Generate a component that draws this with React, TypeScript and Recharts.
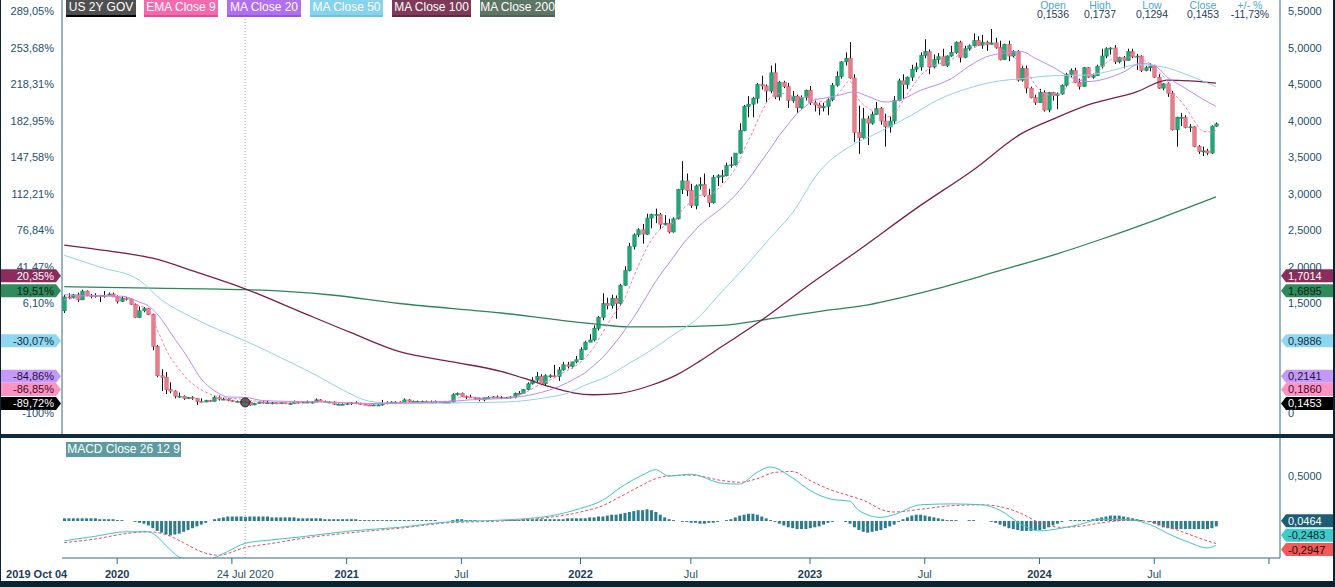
import React from "react";
import {
  ComposedChart,
  Bar,
  Line,
  XAxis,
  YAxis,
  ReferenceLine,
  ReferenceDot,
} from "recharts";

// weekly bars [open, high, low, close]; week 0 starts Mon 7 Oct 2019
const bars2019 = [
  [1.40, 1.62, 1.37, 1.59], [1.59, 1.64, 1.56, 1.58], [1.58, 1.63, 1.57, 1.62], [1.62, 1.65, 1.52, 1.55],
  [1.55, 1.69, 1.55, 1.67], [1.67, 1.68, 1.60, 1.61], [1.61, 1.63, 1.57, 1.60], [1.60, 1.64, 1.58, 1.61],
  [1.61, 1.62, 1.52, 1.61], [1.61, 1.67, 1.58, 1.61], [1.61, 1.65, 1.60, 1.63], [1.63, 1.65, 1.61, 1.59],
  [1.59, 1.61, 1.50, 1.53],
];
const bars2020 = [
  [1.53, 1.60, 1.52, 1.57], [1.57, 1.59, 1.54, 1.56], [1.56, 1.57, 1.48, 1.49], [1.49, 1.50, 1.30, 1.31],
  [1.31, 1.46, 1.30, 1.40], [1.40, 1.45, 1.38, 1.43], [1.43, 1.44, 1.34, 1.35], [1.35, 1.36, 0.86, 0.91],
  [0.91, 0.93, 0.49, 0.51], [0.51, 0.60, 0.30, 0.49], [0.49, 0.56, 0.26, 0.32], [0.32, 0.42, 0.27, 0.30],
  [0.30, 0.31, 0.20, 0.23], [0.23, 0.28, 0.21, 0.23], [0.23, 0.24, 0.18, 0.20], [0.20, 0.22, 0.19, 0.21],
  [0.21, 0.23, 0.18, 0.20], [0.20, 0.20, 0.11, 0.16], [0.16, 0.20, 0.15, 0.15], [0.15, 0.18, 0.15, 0.17],
  [0.17, 0.18, 0.15, 0.16], [0.16, 0.24, 0.16, 0.21], [0.21, 0.24, 0.17, 0.19], [0.19, 0.21, 0.18, 0.19],
  [0.19, 0.20, 0.16, 0.17], [0.17, 0.18, 0.15, 0.16], [0.16, 0.17, 0.15, 0.16], [0.16, 0.17, 0.15, 0.15],
  [0.1536, 0.1737, 0.1294, 0.1453], [0.145, 0.16, 0.10, 0.11], [0.11, 0.14, 0.11, 0.13], [0.13, 0.16, 0.13, 0.15],
  [0.15, 0.16, 0.13, 0.14], [0.14, 0.17, 0.14, 0.14], [0.14, 0.15, 0.12, 0.14], [0.14, 0.15, 0.13, 0.13],
  [0.13, 0.15, 0.13, 0.14], [0.14, 0.15, 0.13, 0.13], [0.13, 0.14, 0.12, 0.13], [0.13, 0.17, 0.13, 0.15],
  [0.15, 0.16, 0.13, 0.14], [0.14, 0.16, 0.14, 0.15], [0.15, 0.17, 0.14, 0.15], [0.15, 0.16, 0.13, 0.15],
  [0.15, 0.20, 0.15, 0.18], [0.18, 0.19, 0.16, 0.16], [0.16, 0.17, 0.14, 0.15], [0.15, 0.16, 0.14, 0.15],
  [0.15, 0.16, 0.11, 0.12], [0.12, 0.13, 0.11, 0.12], [0.12, 0.13, 0.11, 0.12], [0.12, 0.14, 0.11, 0.13],
];
const bars2021 = [
  [0.13, 0.15, 0.11, 0.14], [0.14, 0.16, 0.13, 0.13], [0.13, 0.14, 0.11, 0.12], [0.12, 0.13, 0.11, 0.11],
  [0.11, 0.12, 0.10, 0.10], [0.10, 0.12, 0.10, 0.11], [0.11, 0.12, 0.10, 0.11], [0.11, 0.18, 0.10, 0.13],
  [0.13, 0.16, 0.12, 0.14], [0.14, 0.16, 0.13, 0.15], [0.15, 0.16, 0.13, 0.15], [0.15, 0.16, 0.13, 0.14],
  [0.14, 0.20, 0.14, 0.18], [0.18, 0.19, 0.15, 0.16], [0.16, 0.17, 0.15, 0.16], [0.16, 0.17, 0.15, 0.16],
  [0.16, 0.17, 0.15, 0.16], [0.16, 0.17, 0.14, 0.15], [0.15, 0.17, 0.15, 0.15], [0.15, 0.17, 0.14, 0.16],
  [0.16, 0.16, 0.14, 0.14], [0.14, 0.16, 0.14, 0.15], [0.15, 0.16, 0.14, 0.15], [0.15, 0.27, 0.14, 0.25],
  [0.25, 0.28, 0.24, 0.27], [0.27, 0.28, 0.22, 0.23], [0.23, 0.24, 0.19, 0.22], [0.22, 0.25, 0.21, 0.21],
  [0.21, 0.22, 0.18, 0.20], [0.20, 0.21, 0.16, 0.18], [0.18, 0.22, 0.16, 0.21], [0.21, 0.23, 0.20, 0.21],
  [0.21, 0.23, 0.20, 0.22], [0.22, 0.24, 0.21, 0.21], [0.21, 0.23, 0.19, 0.21], [0.21, 0.22, 0.20, 0.21],
  [0.21, 0.23, 0.20, 0.22], [0.22, 0.28, 0.20, 0.27], [0.27, 0.30, 0.26, 0.27], [0.27, 0.33, 0.26, 0.32],
  [0.32, 0.42, 0.31, 0.40], [0.40, 0.49, 0.39, 0.45], [0.45, 0.56, 0.42, 0.50], [0.50, 0.53, 0.38, 0.40],
  [0.40, 0.53, 0.38, 0.51], [0.51, 0.53, 0.48, 0.51], [0.51, 0.66, 0.49, 0.50], [0.50, 0.63, 0.44, 0.59],
  [0.59, 0.70, 0.58, 0.66], [0.66, 0.70, 0.61, 0.64], [0.64, 0.70, 0.61, 0.70], [0.70, 0.78, 0.68, 0.73],
];
const bars2022 = [
  [0.73, 0.90, 0.73, 0.87], [0.87, 0.99, 0.86, 0.97], [0.97, 1.08, 0.97, 1.00], [1.00, 1.20, 0.98, 1.16],
  [1.16, 1.33, 1.13, 1.31], [1.31, 1.64, 1.27, 1.50], [1.50, 1.58, 1.42, 1.47], [1.47, 1.62, 1.43, 1.57],
  [1.57, 1.61, 1.29, 1.50], [1.50, 1.77, 1.47, 1.75], [1.75, 2.01, 1.74, 1.95], [1.95, 2.33, 1.94, 2.28],
  [2.28, 2.46, 2.24, 2.44], [2.44, 2.53, 2.41, 2.51], [2.51, 2.59, 2.32, 2.45], [2.45, 2.73, 2.44, 2.67],
  [2.67, 2.73, 2.53, 2.72], [2.72, 2.80, 2.60, 2.72], [2.72, 2.74, 2.52, 2.58], [2.58, 2.71, 2.57, 2.60],
  [2.60, 2.66, 2.46, 2.48], [2.48, 2.68, 2.47, 2.66], [2.66, 3.07, 2.65, 3.06], [3.06, 3.45, 3.00, 3.18],
  [3.18, 3.28, 2.97, 3.05], [3.05, 3.14, 2.81, 2.84], [2.84, 3.13, 2.79, 3.11], [3.11, 3.23, 3.06, 3.13],
  [3.13, 3.28, 2.96, 2.98], [2.98, 3.07, 2.82, 2.88], [2.88, 3.26, 2.87, 3.23], [3.23, 3.27, 3.11, 3.25],
  [3.25, 3.33, 3.15, 3.25], [3.25, 3.43, 3.24, 3.39], [3.39, 3.51, 3.36, 3.40], [3.40, 3.55, 3.39, 3.56],
  [3.56, 3.97, 3.55, 3.87], [3.87, 4.22, 3.86, 4.20], [4.20, 4.34, 4.05, 4.23], [4.23, 4.33, 4.05, 4.31],
  [4.31, 4.52, 4.24, 4.50], [4.50, 4.62, 4.43, 4.48], [4.48, 4.50, 4.26, 4.41], [4.41, 4.76, 4.38, 4.66],
  [4.66, 4.79, 4.30, 4.33], [4.33, 4.55, 4.28, 4.53], [4.53, 4.55, 4.45, 4.47], [4.47, 4.52, 4.18, 4.28],
  [4.28, 4.41, 4.25, 4.34], [4.34, 4.36, 4.11, 4.18], [4.18, 4.35, 4.17, 4.32], [4.32, 4.43, 4.28, 4.42],
];
const bars2023 = [
  [4.42, 4.48, 4.22, 4.25], [4.25, 4.28, 4.13, 4.22], [4.22, 4.25, 4.08, 4.18], [4.18, 4.25, 4.13, 4.20],
  [4.20, 4.31, 4.08, 4.29], [4.29, 4.52, 4.27, 4.49], [4.49, 4.68, 4.47, 4.61], [4.61, 4.82, 4.58, 4.81],
  [4.81, 4.94, 4.76, 4.86], [4.86, 5.08, 4.58, 4.59], [4.59, 4.64, 3.71, 3.84], [3.84, 4.21, 3.55, 3.77],
  [3.77, 4.18, 3.76, 4.03], [4.03, 4.07, 3.67, 3.97], [3.97, 4.13, 3.95, 4.09], [4.09, 4.26, 4.09, 4.17],
  [4.17, 4.19, 3.95, 4.00], [4.00, 4.10, 3.65, 3.92], [3.92, 4.06, 3.84, 4.00], [4.00, 4.34, 3.96, 4.28],
  [4.28, 4.58, 4.27, 4.55], [4.55, 4.64, 4.30, 4.50], [4.50, 4.61, 4.44, 4.60], [4.60, 4.77, 4.55, 4.71],
  [4.71, 4.80, 4.67, 4.74], [4.74, 4.94, 4.69, 4.90], [4.90, 5.12, 4.86, 4.95], [4.95, 4.98, 4.64, 4.74],
  [4.74, 4.91, 4.72, 4.84], [4.84, 4.93, 4.78, 4.88], [4.88, 4.99, 4.76, 4.76], [4.76, 4.90, 4.74, 4.89],
  [4.89, 5.03, 4.88, 4.94], [4.94, 5.09, 4.92, 5.08], [5.08, 5.10, 4.80, 4.87], [4.87, 5.03, 4.86, 4.99],
  [4.99, 5.05, 4.96, 5.03], [5.03, 5.20, 5.02, 5.10], [5.10, 5.16, 5.03, 5.04], [5.04, 5.18, 4.99, 5.08],
  [5.08, 5.10, 4.96, 5.05], [5.05, 5.26, 5.04, 5.07], [5.07, 5.14, 4.99, 5.01], [5.01, 5.10, 4.83, 4.84],
  [4.84, 5.06, 4.84, 5.05], [5.05, 5.10, 4.82, 4.89], [4.89, 4.97, 4.87, 4.95], [4.95, 4.97, 4.54, 4.56],
  [4.56, 4.75, 4.54, 4.72], [4.72, 4.76, 4.38, 4.45], [4.45, 4.47, 4.31, 4.32], [4.32, 4.36, 4.22, 4.25],
];
const bars2024 = [
  [4.25, 4.44, 4.25, 4.39], [4.39, 4.42, 4.13, 4.15], [4.15, 4.40, 4.12, 4.39], [4.39, 4.40, 4.28, 4.35],
  [4.35, 4.39, 4.16, 4.37], [4.37, 4.50, 4.36, 4.49], [4.49, 4.66, 4.47, 4.64], [4.64, 4.72, 4.60, 4.69],
  [4.69, 4.73, 4.52, 4.53], [4.53, 4.58, 4.43, 4.47], [4.47, 4.74, 4.47, 4.73], [4.73, 4.74, 4.59, 4.60],
  [4.60, 4.65, 4.58, 4.62], [4.62, 4.77, 4.62, 4.75], [4.75, 4.99, 4.72, 4.89], [4.89, 5.01, 4.86, 4.99],
  [4.99, 5.01, 4.91, 5.00], [5.00, 5.04, 4.78, 4.81], [4.81, 4.88, 4.79, 4.87], [4.87, 4.89, 4.72, 4.83],
  [4.83, 4.99, 4.83, 4.95], [4.95, 4.99, 4.86, 4.88], [4.88, 4.92, 4.70, 4.89], [4.89, 4.90, 4.67, 4.69],
  [4.69, 4.75, 4.68, 4.73], [4.73, 4.79, 4.68, 4.75], [4.75, 4.77, 4.59, 4.60], [4.60, 4.64, 4.44, 4.45],
  [4.45, 4.52, 4.42, 4.51], [4.51, 4.53, 4.33, 4.38], [4.38, 4.41, 3.87, 3.88], [3.88, 4.06, 3.65, 4.05],
  [4.05, 4.11, 3.93, 4.05], [4.05, 4.08, 3.90, 3.91], [3.91, 3.96, 3.85, 3.92], [3.92, 3.93, 3.64, 3.65],
  [3.65, 3.67, 3.55, 3.58], [3.58, 3.65, 3.52, 3.59], [3.59, 3.62, 3.53, 3.56], [3.56, 3.94, 3.55, 3.93],
  [3.93, 3.98, 3.92, 3.96],
];

// moving averages: [week, value]
const ema9Pts = [
  [0, 1.55], [3, 1.58], [6, 1.61], [10, 1.61], [13, 1.58], [15, 1.56], [16, 1.5], [18, 1.45], [19, 1.42],
  [20, 1.31], [21, 1.15], [22, 1.02], [23, 0.88], [24, 0.77], [26, 0.6], [28, 0.46], [30, 0.36], [33, 0.26],
  [36, 0.21], [41, 0.186], [45, 0.15], [50, 0.14], [58, 0.155], [64, 0.135], [70, 0.12], [76, 0.14],
  [84, 0.155], [88, 0.17], [90, 0.22], [94, 0.21], [100, 0.21], [103, 0.24], [106, 0.33], [108, 0.4],
  [110, 0.45], [113, 0.55], [116, 0.65], [118, 0.75], [120, 0.9], [122, 1.1], [124, 1.3], [126, 1.47],
  [127, 1.57], [128, 1.71], [129, 1.86], [130, 2.0], [132, 2.26], [134, 2.45], [136, 2.56], [138, 2.6],
  [140, 2.78], [142, 2.89], [144, 2.98], [146, 2.98], [148, 3.06], [150, 3.18], [152, 3.34], [153, 3.45],
  [154, 3.6], [155, 3.73], [156, 3.85], [158, 4.12], [160, 4.32], [162, 4.38], [164, 4.37], [166, 4.31],
  [168, 4.33], [170, 4.31], [172, 4.26], [174, 4.29], [176, 4.42], [178, 4.55], [179, 4.42], [180, 4.3],
  [182, 4.18], [184, 4.12], [186, 4.05], [188, 4.1], [190, 4.27], [192, 4.45], [194, 4.62], [196, 4.72],
  [198, 4.78], [200, 4.8], [202, 4.88], [204, 4.93], [206, 5.0], [208, 5.04], [210, 5.05], [212, 4.98],
  [214, 4.95], [216, 4.83], [218, 4.7], [220, 4.5], [222, 4.38], [224, 4.35], [226, 4.38], [228, 4.52],
  [230, 4.55], [232, 4.62], [234, 4.66], [236, 4.79], [238, 4.86], [240, 4.86], [242, 4.88], [244, 4.84],
  [246, 4.79], [248, 4.67], [250, 4.54], [251, 4.41], [252, 4.34], [254, 4.2], [256, 4.01], [258, 3.86],
  [260, 3.85], [261, 3.87],
];
const ma20Pts = [
  [0, 1.62], [8, 1.6], [13, 1.6], [17, 1.52], [19, 1.47], [21, 1.36], [23, 1.2], [25, 1.02], [27, 0.85],
  [29, 0.66], [31, 0.47], [33, 0.35], [35, 0.27], [37, 0.22], [41, 0.2141], [45, 0.17], [50, 0.16],
  [60, 0.15], [70, 0.13], [80, 0.14], [88, 0.16], [92, 0.18], [100, 0.2], [104, 0.23], [108, 0.28],
  [112, 0.36], [116, 0.48], [118, 0.55], [120, 0.65], [122, 0.76], [124, 0.9], [126, 1.05], [128, 1.22],
  [130, 1.4], [132, 1.6], [134, 1.8], [136, 1.97], [138, 2.13], [140, 2.3], [142, 2.44], [144, 2.57],
  [146, 2.67], [148, 2.76], [150, 2.86], [152, 2.98], [154, 3.12], [156, 3.28], [158, 3.45], [160, 3.62],
  [162, 3.8], [164, 3.95], [166, 4.1], [168, 4.2], [170, 4.29], [172, 4.31], [176, 4.36], [179, 4.4],
  [182, 4.34], [186, 4.26], [190, 4.3], [194, 4.42], [198, 4.5], [201, 4.58], [205, 4.75], [209, 4.88],
  [213, 4.93], [217, 4.95], [220, 4.86], [224, 4.74], [228, 4.6], [232, 4.54], [236, 4.58], [240, 4.67],
  [244, 4.79], [247, 4.76], [250, 4.6], [254, 4.45], [258, 4.3], [261, 4.2],
];
const ma50Pts = [
  [0, 2.16], [8, 2.0], [17, 1.82], [22, 1.55], [28, 1.34], [35, 1.14], [41, 0.9886], [49, 0.76],
  [57, 0.52], [63, 0.32], [68, 0.18], [72, 0.14], [80, 0.13], [90, 0.14], [100, 0.15], [110, 0.22],
  [114, 0.27], [118, 0.38], [123, 0.5], [128, 0.68], [133, 0.86], [138, 1.07], [143, 1.27], [149, 1.66],
  [155, 2.05], [160, 2.4], [165, 2.74], [171, 3.3], [178, 3.65], [183, 3.8], [187, 3.92], [192, 4.08],
  [198, 4.29], [205, 4.45], [212, 4.55], [217, 4.58], [224, 4.62], [232, 4.63], [238, 4.7], [243, 4.77],
  [249, 4.74], [255, 4.62], [261, 4.47],
];
const ma100Pts = [
  [0, 2.3], [10, 2.22], [20, 2.12], [30, 1.93], [41, 1.7014], [53, 1.4], [65, 1.1], [76, 0.84],
  [88, 0.7], [99, 0.57], [105, 0.46], [110, 0.36], [115, 0.28], [120, 0.25], [126, 0.27], [133, 0.38],
  [139, 0.53], [144, 0.71], [149, 0.91], [158, 1.27], [168, 1.72], [180, 2.23], [193, 2.8], [206, 3.33],
  [217, 3.83], [225, 4.05], [232, 4.22], [243, 4.4], [250, 4.56], [255, 4.55], [261, 4.52],
];
const ma200Pts = [
  [0, 1.73], [20, 1.71], [41, 1.6895], [60, 1.62], [76, 1.5], [99, 1.37], [120, 1.22], [128, 1.18],
  [136, 1.18], [149, 1.2], [161, 1.3], [172, 1.4], [181, 1.47], [195, 1.66], [212, 1.95], [225, 2.18],
  [235, 2.38], [248, 2.66], [261, 2.96],
];

// MACD (26,12,9)
const macdPts = [
  [0, -0.22], [7, -0.17], [14, -0.12], [19, -0.12], [21, -0.17], [23, -0.27], [26, -0.4], [30, -0.46],
  [33, -0.43], [37, -0.34], [41, -0.2483], [47, -0.21], [53, -0.18], [65, -0.11], [76, -0.07],
  [87, -0.01], [99, 0.01], [110, 0.055], [117, 0.14], [122, 0.23], [126, 0.37], [131, 0.51], [134, 0.57],
  [137, 0.5], [142, 0.52], [149, 0.42], [153, 0.41], [157, 0.54], [160, 0.6], [165, 0.48], [169, 0.34],
  [174, 0.24], [178, 0.22], [180, 0.12], [185, 0.04], [188, 0.07], [194, 0.18], [201, 0.19], [208, 0.18],
  [212, 0.12], [217, -0.04], [221, -0.11], [226, -0.08], [230, -0.04], [235, 0.02], [242, 0.01],
  [246, -0.04], [251, -0.16], [255, -0.24], [259, -0.3], [261, -0.27],
];
const signalPts = [
  [0, -0.24], [7, -0.2], [14, -0.14], [19, -0.12], [23, -0.15], [27, -0.24], [31, -0.34], [35, -0.38],
  [41, -0.2947], [47, -0.25], [53, -0.2], [65, -0.13], [76, -0.08], [87, -0.02], [99, 0.0], [110, 0.04],
  [117, 0.1], [122, 0.17], [126, 0.27], [131, 0.4], [134, 0.47], [137, 0.5], [142, 0.51], [149, 0.45],
  [153, 0.43], [157, 0.47], [161, 0.54], [165, 0.55], [169, 0.45], [174, 0.34], [178, 0.28], [182, 0.21],
  [185, 0.13], [188, 0.1], [194, 0.13], [201, 0.17], [208, 0.18], [212, 0.16], [217, 0.08], [221, -0.02],
  [226, -0.07], [230, -0.06], [235, -0.02], [242, 0.01], [246, -0.01], [251, -0.08], [255, -0.15],
  [259, -0.22], [261, -0.25],
];
// histogram, one value per week, in hundredths
const histWeekly = [
  3, 3, 3, 3, 3, 3, 3, 3, 2, 2, 2, 2, 1,
  1, 0, 0, -1, -2, -3, -5, -8, -11, -13, -15, -16, -15, -14, -12, -10, -8, -6, -4, -2, 0, 2, 3, 4, 5, 5,
  5, 5, 4.64, 5, 5, 5, 5, 5, 4, 4, 4, 4, 4, 4, 3, 3, 3, 3, 3, 3, 2, 2, 2, 2, 2, 2,
  2, 2, 1, 1, 1, 1, 1, 1, 1, 1, 1, 1, 1, 1, 1, 1, 1, 1, 1, 1, 0, 0, 0, 1, 2, 2, 1, 1, 1, 0, 0, 0, 0, 0,
  0, 1, 1, 1, 1, 2, 2, 2, 2, 2, 2, 2, 2, 2, 2, 3, 3, 3,
  3, 3, 4, 4, 5, 5, 6, 7, 7, 8, 9, 10, 11, 12, 12, 13, 12, 10, 7, 4, 2, 1, 0, -1, -1, -2, -2, -3, -3, -2,
  -2, -1, 0, 1, 2, 4, 6, 7, 8, 8, 7, 5, 3, 1, -1, -3, -5, -7, -8, -9, -9, -9,
  -8, -7, -6, -4, -2, -1, 0, 0, -1, -3, -7, -10, -12, -13, -12, -11, -10, -8, -6, -4, -1, 2, 4, 6, 7, 7,
  6, 5, 4, 3, 2, 1, 1, 1, 0, 0, 1, 1, 0, 0, 0, -1, -2, -4, -6, -8, -9, -10, -11, -11, -11, -10,
  -10, -9, -7, -5, -3, -1, 0, 1, 1, 1, 1, 1, 2, 3, 4, 5, 6, 6, 6, 5, 4, 3, 2, 1, 0, -1, -3, -5, -7, -8,
  -9, -9, -9, -9, -9, -9, -9, -9, -9, -8, -6,
];

// axis ticks and labels
const priceTicks = [0, 1.5, 2, 2.5, 3, 3.5, 4, 4.5, 5, 5.5];
const priceLabels = ["0", "1,5000", "2,0000", "2,5000", "3,0000", "3,5000", "4,0000", "4,5000", "5,0000", "5,5000"];
const pctLabels = ["-100%", "6,10%", "41,47%", "76,84%", "112,21%", "147,58%", "182,95%", "218,31%", "253,68%", "289,05%"];
const macdTicks = [0.5];
const macdLabels = ["0,5000"];
const xTickWeeks = [0, 12, 38, 41, 64, 90, 117, 142, 169, 195, 221, 247, 273];
const xTickLabels = ["2019 Oct 04", "2020", "", "24 Jul 2020", "2021", "Jul", "2022", "Jul", "2023", "Jul", "2024", "Jul", ""];
const xTickBold = [true, true, false, false, true, false, true, false, true, false, true, false, false];
const xTickMark = [false, true, true, false, true, true, true, true, true, true, true, true, true];

const CURSOR = 41;
const EXTRA_WEEKS = 14;

const priceTags = [
  { v: 1.7014, text: "1,7014", pct: "20,35%", bg: "#8c2c5c", fg: "#ffffff", dy: -13 },
  { v: 1.6895, text: "1,6895", pct: "19,51%", bg: "#2f8a5c", fg: "#0d1f17", dy: 1 },
  { v: 0.9886, text: "0,9886", pct: "-30,07%", bg: "#8fd6f0", fg: "#14303d", dy: 0 },
  { v: 0.2141, text: "0,2141", pct: "-84,86%", bg: "#c49af8", fg: "#241238", dy: -21 },
  { v: 0.186, text: "0,1860", pct: "-86,85%", bg: "#ff93c4", fg: "#3a0f22", dy: -10 },
  { v: 0.1453, text: "0,1453", pct: "-89,72%", bg: "#000000", fg: "#ffffff", dy: 1 },
];
const macdTags = [
  { v: 0.0464, text: "0,0464", bg: "#1d5e76", fg: "#ffffff", dy: 4 },
  { v: -0.2483, text: "-0,2483", bg: "#3fcaca", fg: "#0b2a30", dy: -8 },
  { v: -0.2947, text: "-0,2947", bg: "#f25a5a", fg: "#2a0808", dy: 2 },
];

const legendItems = [
  { text: "US 2Y GOV", bg: "#4f4f4f", line: "#000000", left: 66, width: 70 },
  { text: "EMA Close 9", bg: "#f56aae", line: "#e04a98", left: 144, width: 74 },
  { text: "MA Close 20", bg: "#b06ef0", line: "#9955e2", left: 227, width: 74 },
  { text: "MA Close 50", bg: "#86d3ee", line: "#68c4e6", left: 310, width: 73 },
  { text: "MA Close 100", bg: "#7d3b59", line: "#692447", left: 392, width: 79 },
  { text: "MA Close 200", bg: "#5e7465", line: "#466854", left: 480, width: 75 },
];
const readLabels = ["Open", "High", "Low", "Close", "+/- %"];
const readValues = ["0,1536", "0,1737", "0,1294", "0,1453", "-11,73%"];
const readCenters = [1053, 1100, 1152, 1203, 1250];

type Row = { [k: string]: number | undefined };

const weeks = [...bars2019, ...bars2020, ...bars2021, ...bars2022, ...bars2023, ...bars2024];
const rows: Row[] = [];
for (let i = 0; i < weeks.length + EXTRA_WEEKS; i++) {
  const b = weeks[i];
  rows.push(b ? { i, o: b[0], h: b[1], l: b[2], c: b[3], hist: histWeekly[i] / 100 } : { i });
}
const put = (pts: number[][], key: string) => pts.forEach(([i, v]) => (rows[i][key] = v));
put(ema9Pts, "ema9");
put(ma20Pts, "ma20");
put(ma50Pts, "ma50");
put(ma100Pts, "ma100");
put(ma200Pts, "ma200");
put(macdPts, "macd");
put(signalPts, "signal");

const AXIS = "#2b6a84";
const TXT = "#24506c";
const PRICE_DOMAIN: [number, number] = [-0.2877, 5.6575];
const MACD_DOMAIN: [number, number] = [-0.4111, 0.9222];

const Candle = (props: any) => {
  const { x, y, width, height, payload } = props;
  if (!payload || payload.h == null) return null;
  const { o, h, l, c } = payload;
  const top = Math.min(y, y + height);
  const span = Math.abs(height);
  const toY = (v: number) => top + ((h - v) / (h - l || 1)) * span;
  const cx = Math.round(x + width / 2) + 0.5;
  const up = c >= o;
  const bTop = toY(Math.max(o, c));
  const bBot = toY(Math.min(o, c));
  return (
    <g>
      <line x1={cx} x2={cx} y1={top} y2={top + span} stroke="#111" strokeWidth={1} />
      <rect
        x={cx - 1.7}
        y={bTop}
        width={3.4}
        height={Math.max(bBot - bTop, 1)}
        fill={up ? "#22a97a" : "#e8808b"}
        stroke={up ? "#138659" : "#c9586a"}
        strokeWidth={0.6}
      />
    </g>
  );
};

const RightTick = (props: any) => {
  const { x, y, payload, ticks, labels } = props;
  const k = ticks.indexOf(payload.value);
  return (
    <text x={x} y={y} dy={4} textAnchor="start" fontSize={11} fill={TXT}>
      {labels[k]}
    </text>
  );
};

const PctTick = (props: any) => {
  const k = priceTicks.indexOf(props.payload.value);
  return (
    <text x={props.x} y={props.y} dy={4} textAnchor="end" fontSize={11} fill={TXT}>
      {pctLabels[k]}
    </text>
  );
};

const TimeTick = (props: any) => {
  const { x, y, payload } = props;
  const k = xTickWeeks.indexOf(payload.value);
  if (k < 0) return null;
  const first = k === 0;
  return (
    <g>
      {xTickMark[k] && <line x1={x} x2={x} y1={y - 8} y2={y - 2} stroke={AXIS} />}
      <text
        x={first ? x + 3 : x}
        y={y + 12}
        textAnchor={first ? "end" : "middle"}
        fontSize={11}
        fontWeight={xTickBold[k] ? 700 : 400}
        fill={xTickBold[k] ? "#1b3e56" : TXT}
      >
        {xTickLabels[k]}
      </text>
    </g>
  );
};

const PriceTag = (props: any) => {
  const { viewBox, t } = props;
  const cy = viewBox.y + t.dy;
  const lx = viewBox.x - 1;
  const rx = viewBox.x + viewBox.width + 1;
  return (
    <g>
      <path d={`M0,${cy - 6.5} L${lx - 5},${cy - 6.5} L${lx},${cy} L${lx - 5},${cy + 6.5} L0,${cy + 6.5} Z`} fill={t.bg} />
      <text x={lx - 7} y={cy} dy={4} textAnchor="end" fontSize={11} fill={t.fg}>
        {t.pct}
      </text>
      <path d={`M${rx},${cy} L${rx + 5},${cy - 6.5} L1333,${cy - 6.5} L1333,${cy + 6.5} L${rx + 5},${cy + 6.5} Z`} fill={t.bg} />
      <text x={rx + 7} y={cy} dy={4} textAnchor="start" fontSize={11} fill={t.fg}>
        {t.text}
      </text>
    </g>
  );
};

const MacdTag = (props: any) => {
  const { viewBox, t } = props;
  const cy = viewBox.y + t.dy;
  const rx = viewBox.x + viewBox.width + 1;
  return (
    <g>
      <path d={`M${rx},${cy} L${rx + 5},${cy - 6.5} L1333,${cy - 6.5} L1333,${cy + 6.5} L${rx + 5},${cy + 6.5} Z`} fill={t.bg} />
      <text x={rx + 7} y={cy} dy={4} textAnchor="start" fontSize={11} fill={t.fg}>
        {t.text}
      </text>
    </g>
  );
};

export default function App() {
  return (
    <div
      style={{
        position: "absolute",
        left: 0,
        top: 0,
        width: 1335,
        height: 587,
        background: "#ffffff",
        overflow: "hidden",
        fontFamily: '"Liberation Sans", Arial, sans-serif',
      }}
    >
      <div style={{ position: "absolute", left: 0, top: 0 }}>
        <ComposedChart width={1335} height={434} data={rows} margin={{ top: 0, right: 0, bottom: 0, left: 0 }}>
          <XAxis dataKey="i" hide />
          <YAxis
            yAxisId="pct"
            orientation="left"
            width={62}
            domain={PRICE_DOMAIN}
            ticks={priceTicks}
            allowDataOverflow
            tick={<PctTick />}
            tickLine={false}
            axisLine={{ stroke: AXIS }}
          />
          <YAxis
            yAxisId="price"
            orientation="right"
            width={55}
            domain={PRICE_DOMAIN}
            ticks={priceTicks}
            allowDataOverflow
            tick={<RightTick ticks={priceTicks} labels={priceLabels} />}
            tickLine={false}
            axisLine={{ stroke: AXIS }}
          />
          <ReferenceLine yAxisId="price" x={CURSOR} stroke="#a0a0a0" strokeDasharray="1 2" />
          <Line yAxisId="price" dataKey="ma200" type="monotone" stroke="#2e8558" strokeWidth={1.3} dot={false} connectNulls isAnimationActive={false} />
          <Line yAxisId="price" dataKey="ma100" type="monotone" stroke="#7a1f4c" strokeWidth={1.3} dot={false} connectNulls isAnimationActive={false} />
          <Line yAxisId="price" dataKey="ma50" type="monotone" stroke="#8fd2ea" strokeWidth={1} dot={false} connectNulls isAnimationActive={false} />
          <Line yAxisId="price" dataKey="ma20" type="monotone" stroke="#b98af4" strokeWidth={1} dot={false} connectNulls isAnimationActive={false} />
          <Line yAxisId="price" dataKey="ema9" type="monotone" stroke="#ff78b8" strokeWidth={1} strokeDasharray="3 2" dot={false} connectNulls isAnimationActive={false} />
          <Bar
            yAxisId="price"
            dataKey={(d: Row) => (d.h == null ? null : [d.l, d.h])}
            shape={<Candle />}
            isAnimationActive={false}
          />
          <ReferenceDot yAxisId="price" x={CURSOR} y={0.145} r={4.5} fill="#4a4a4a" fillOpacity={0.85} stroke="#222" />
          {priceTags.map((t) => (
            <ReferenceLine key={t.text} yAxisId="price" y={t.v} stroke="none" label={<PriceTag t={t} />} />
          ))}
        </ComposedChart>
      </div>

      <div style={{ position: "absolute", left: 0, top: 434, width: 1335, height: 4, background: "#0f2c3c" }} />

      <div style={{ position: "absolute", left: 0, top: 438 }}>
        <ComposedChart width={1335} height={143} data={rows} margin={{ top: 0, right: 0, bottom: 0, left: 62 }}>
          <XAxis
            dataKey="i"
            height={23}
            ticks={xTickWeeks}
            interval={0}
            tick={<TimeTick />}
            tickLine={false}
            axisLine={{ stroke: AXIS }}
          />
          <YAxis
            yAxisId="m"
            orientation="right"
            width={55}
            domain={MACD_DOMAIN}
            ticks={macdTicks}
            allowDataOverflow
            tick={<RightTick ticks={macdTicks} labels={macdLabels} />}
            tickLine={false}
            axisLine={{ stroke: AXIS }}
          />
          <ReferenceLine yAxisId="m" x={CURSOR} stroke="#a0a0a0" strokeDasharray="1 2" />
          <Bar yAxisId="m" dataKey="hist" fill="#2c7c8e" barSize={3} isAnimationActive={false} />
          <Line yAxisId="m" dataKey="signal" type="monotone" stroke="#e4505c" strokeWidth={1} strokeDasharray="3 2" dot={false} connectNulls isAnimationActive={false} />
          <Line yAxisId="m" dataKey="macd" type="monotone" stroke="#3ec6c8" strokeWidth={1} dot={false} connectNulls isAnimationActive={false} />
          {macdTags.map((t) => (
            <ReferenceLine key={t.text} yAxisId="m" y={t.v} stroke="none" label={<MacdTag t={t} />} />
          ))}
        </ComposedChart>
      </div>

      <div style={{ position: "absolute", left: 0, top: 581, width: 1335, height: 6, background: "#0b2230" }} />
      <div style={{ position: "absolute", left: 0, top: 0, width: 1, height: 587, background: "#0b2230" }} />
      <div style={{ position: "absolute", left: 1333, top: 0, width: 2, height: 587, background: "#0b2230" }} />

      {legendItems.map((it) => (
        <div
          key={it.text}
          style={{
            position: "absolute",
            left: it.left,
            top: 0,
            width: it.width,
            height: 15,
            background: it.bg,
            borderBottom: `2px solid ${it.line}`,
            color: "#ffffff",
            fontSize: 12,
            lineHeight: "15px",
            textAlign: "center",
            whiteSpace: "nowrap",
          }}
        >
          {it.text}
        </div>
      ))}

      <svg style={{ position: "absolute", left: 0, top: 0 }} width={1335} height={22}>
        {readLabels.map((lab, k) => (
          <g key={lab}>
            <text x={readCenters[k]} y={8.5} textAnchor="middle" fontSize={10.5} fill="#4aa6cc">
              {lab}
            </text>
            <text x={readCenters[k]} y={17.5} textAnchor="middle" fontSize={10.5} fill="#1f4058">
              {readValues[k]}
            </text>
          </g>
        ))}
      </svg>

      <div
        style={{
          position: "absolute",
          left: 66,
          top: 442,
          width: 115,
          height: 15,
          background: "#5d9ba1",
          color: "#ffffff",
          fontSize: 12,
          lineHeight: "15px",
          textAlign: "center",
          whiteSpace: "nowrap",
        }}
      >
        MACD Close 26 12 9
      </div>
    </div>
  );
}
